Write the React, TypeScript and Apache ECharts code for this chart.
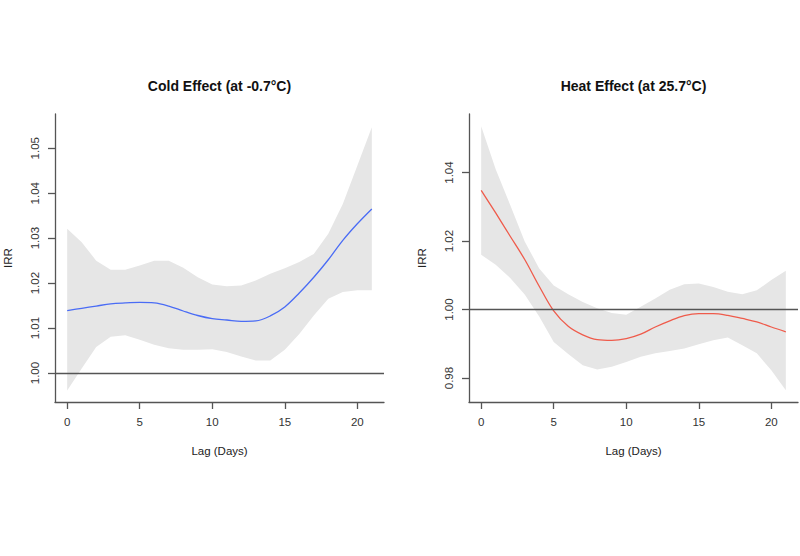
import React, { useEffect, useRef } from "react";
import * as echarts from "echarts";

// Lag in days
const lags = [0, 1, 2, 3, 4, 5, 6, 7, 8, 9, 10, 11, 12, 13, 14, 15, 16, 17, 18, 19, 20, 21];

// Cold effect (at -0.7°C)
const coldFit = [1.0139, 1.0144, 1.0149, 1.0154, 1.0156, 1.0157, 1.0156, 1.0149, 1.0138, 1.0128, 1.0121, 1.0118, 1.0115, 1.0116, 1.0127, 1.0147, 1.0178, 1.0213, 1.0252, 1.0295, 1.0332, 1.0365];
const coldLow = [0.9961, 1.0010, 1.0058, 1.0081, 1.0084, 1.0074, 1.0063, 1.0055, 1.0052, 1.0052, 1.0053, 1.0047, 1.0037, 1.0028, 1.0028, 1.0052, 1.0087, 1.0128, 1.0165, 1.0180, 1.0184, 1.0184];
const coldHigh = [1.0321, 1.0291, 1.0250, 1.0230, 1.0230, 1.0239, 1.0250, 1.0250, 1.0234, 1.0213, 1.0197, 1.0193, 1.0195, 1.0206, 1.0221, 1.0233, 1.0247, 1.0265, 1.0310, 1.0376, 1.0461, 1.0547];

// Heat effect (at 25.7°C)
const heatFit = [1.0348, 1.0282, 1.0214, 1.0146, 1.0068, 0.9996, 0.9951, 0.9926, 0.9912, 0.9910, 0.9915, 0.9928, 0.9949, 0.9967, 0.9982, 0.9988, 0.9988, 0.9983, 0.9974, 0.9964, 0.9949, 0.9935];
const heatLow = [1.0160, 1.0131, 1.0092, 1.0044, 0.9980, 0.9905, 0.9870, 0.9837, 0.9825, 0.9833, 0.9847, 0.9862, 0.9872, 0.9879, 0.9886, 0.9899, 0.9910, 0.9918, 0.9896, 0.9872, 0.9823, 0.9764];
const heatHigh = [1.0535, 1.0410, 1.0305, 1.0199, 1.0120, 1.0070, 1.0045, 1.0022, 1.0004, 0.9990, 0.9985, 1.0008, 1.0032, 1.0058, 1.0074, 1.0076, 1.0066, 1.0052, 1.0045, 1.0056, 1.0086, 1.0113];

// Tick labels
const xTicks = [0, 5, 10, 15, 20];
const coldYTicks = [1.0, 1.01, 1.02, 1.03, 1.04, 1.05];
const heatYTicks = [0.98, 1.0, 1.02, 1.04];

const titles = ["Cold Effect (at -0.7°C)", "Heat Effect (at 25.7°C)"];
const xName = "Lag (Days)";
const yName = "IRR";
const refValue = 1.0;

const FONT = "'Liberation Sans', Arial, Helvetica, sans-serif";
const AXIS_COLOR = "#555555";

export default function App() {
  const ref = useRef<HTMLDivElement>(null);

  useEffect(() => {
    if (!ref.current) return;
    const chart = echarts.init(ref.current, undefined, { renderer: "svg" });

    const makeBand = (low: number[], high: number[], xi: number) => ({
      type: "custom",
      xAxisIndex: xi,
      yAxisIndex: xi,
      silent: true,
      z: 1,
      data: lags.map((l, i) => [l, low[i], high[i]]),
      renderItem: (params: any, api: any) => {
        if (params.dataIndex !== 0) return null;
        const pts: number[][] = [];
        for (let i = 0; i < lags.length; i++) pts.push(api.coord([lags[i], high[i]]));
        for (let i = lags.length - 1; i >= 0; i--) pts.push(api.coord([lags[i], low[i]]));
        return {
          type: "polygon",
          shape: { points: pts },
          style: { fill: "#e6e6e6", stroke: "none" },
        };
      },
    });

    const makeLine = (fit: number[], xi: number, color: string) => ({
      type: "line",
      xAxisIndex: xi,
      yAxisIndex: xi,
      data: lags.map((l, i) => [l, fit[i]]),
      smooth: 0.35,
      showSymbol: false,
      silent: true,
      z: 3,
      lineStyle: { color, width: 1.3 },
      markLine: {
        silent: true,
        symbol: "none",
        label: { show: false },
        lineStyle: { color: AXIS_COLOR, width: 1.3, type: "solid" },
        data: [{ yAxis: refValue }],
      },
    });

    const xAxisCommon = (gi: number) => ({
      type: "value",
      gridIndex: gi,
      min: -0.84,
      max: 21.84,
      position: "bottom",
      axisLine: { show: true, onZero: false, lineStyle: { color: AXIS_COLOR, width: 1.3 } },
      axisTick: { show: true, length: 7, customValues: xTicks, lineStyle: { color: AXIS_COLOR, width: 1.3 } },
      axisLabel: {
        show: true,
        customValues: xTicks,
        margin: 14,
        color: "#333",
        fontSize: 11.5,
        fontFamily: FONT,
      },
      splitLine: { show: false },
    });

    const yAxisCommon = (gi: number, min: number, max: number, ticks: number[]) => ({
      type: "value",
      gridIndex: gi,
      min,
      max,
      axisLine: { show: true, onZero: false, lineStyle: { color: AXIS_COLOR, width: 1.3 } },
      axisTick: { show: true, length: 7, customValues: ticks, lineStyle: { color: AXIS_COLOR, width: 1.3 } },
      axisLabel: {
        show: true,
        customValues: ticks,
        rotate: 90,
        margin: 14,
        color: "#333",
        fontSize: 11.5,
        fontFamily: FONT,
        formatter: (v: number) => v.toFixed(2),
      },
      splitLine: { show: false },
    });

    const txt = (text: string, x: number, y: number, opts: any = {}) => ({
      type: "text",
      x,
      y,
      rotation: opts.rotation || 0,
      silent: true,
      style: {
        text,
        align: "center",
        verticalAlign: "middle",
        fill: opts.fill || "#222",
        font: `${opts.weight || "normal"} ${opts.size || 11.5}px ${FONT}`,
      },
    });

    chart.setOption({
      animation: false,
      backgroundColor: "#ffffff",
      grid: [
        { left: 55, top: 114, width: 329, height: 288 },
        { left: 469, top: 114, width: 329, height: 288 },
      ],
      xAxis: [xAxisCommon(0), xAxisCommon(1)],
      yAxis: [
        yAxisCommon(0, 0.99356, 1.05762, coldYTicks),
        yAxisCommon(1, 0.973, 1.0571, heatYTicks),
      ],
      series: [
        makeBand(coldLow, coldHigh, 0),
        makeLine(coldFit, 0, "#4a6cf5"),
        makeBand(heatLow, heatHigh, 1),
        makeLine(heatFit, 1, "#ef5b4b"),
      ],
      graphic: [
        txt(titles[0], 219.5, 86, { weight: "bold", size: 14, fill: "#111" }),
        txt(titles[1], 633.5, 86, { weight: "bold", size: 14, fill: "#111" }),
        txt(yName, 8, 258, { rotation: Math.PI / 2 }),
        txt(yName, 422, 258, { rotation: Math.PI / 2 }),
        txt(xName, 219.5, 451),
        txt(xName, 633.5, 451),
      ],
    });

    return () => chart.dispose();
  }, []);

  return (
    <div
      ref={ref}
      style={{ position: "absolute", left: 0, top: 0, width: 800, height: 556, background: "#fff" }}
    />
  );
}
